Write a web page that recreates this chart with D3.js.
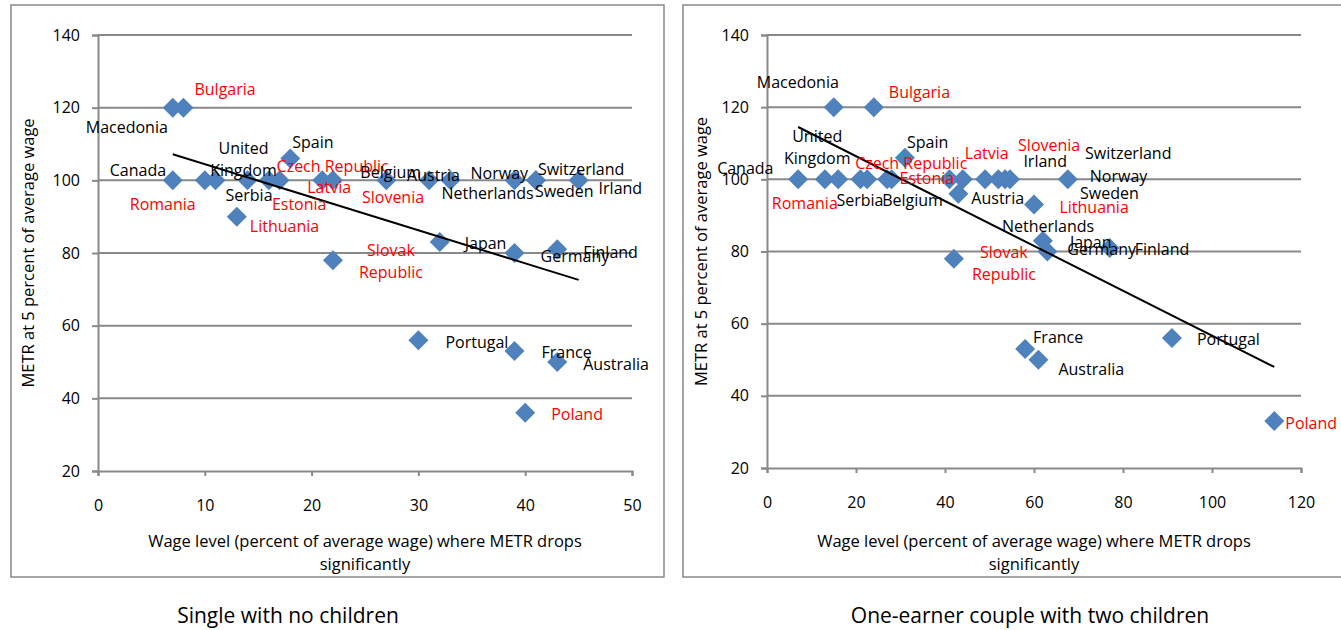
<!DOCTYPE html>
<html>
<head>
<meta charset="utf-8">
<script src="https://cdn.jsdelivr.net/npm/d3@7"></script>
<style>
  body { margin: 0; background: #fff; }
  text { font-family: "Open Sans", sans-serif; }
</style>
</head>
<body>
<div id="dataviz"></div>
<script>
// ---- data ----
var yTicks = [20, 40, 60, 80, 100, 120, 140];
var singleXTicks = [0, 10, 20, 30, 40, 50];
var coupleXTicks = [0, 20, 40, 60, 80, 100, 120];

var redCountries = ["Bulgaria", "Romania", "Czech Republic", "Latvia", "Estonia",
  "Lithuania", "Slovenia", "Slovak Republic", "Poland"];

// single with no children
var singleCountries = ["Macedonia", "Bulgaria", "Canada", "Romania", "United Kingdom", "Serbia",
  "Lithuania", "Spain", "Czech Republic", "Estonia", "Latvia", "Slovenia", "Belgium", "Austria",
  "Netherlands", "Norway", "Switzerland", "Sweden", "Irland", "Slovak Republic", "Japan",
  "Germany", "Finland", "Portugal", "France", "Australia", "Poland"];
var singleWage = [7, 8, 7, 10, 11, 14, 13, 18, 17, 16, 21, 22, 27, 31, 33, 39, 41, 41, 45, 22, 32, 39, 43, 30, 39, 43, 40];
var singleMetr = [120, 120, 100, 100, 100, 100, 90, 106, 100, 100, 100, 100, 100, 100, 100, 100, 100, 100, 100, 78, 83, 80, 81, 56, 53, 50, 36];
var singleTrendX = [7, 45];
var singleTrendY = [107.2, 72.6];

// one-earner couple with two children
var coupleCountries = ["Macedonia", "Bulgaria", "Canada", "Romania", "United Kingdom", "Serbia",
  "Czech Republic", "Belgium", "Estonia", "Spain", "Latvia", "Austria", "Slovenia", "Irland",
  "Switzerland", "Norway", "Sweden", "Lithuania", "Netherlands", "Japan", "Germany", "Finland",
  "Slovak Republic", "France", "Australia", "Portugal", "Poland"];
var coupleWage = [15, 24, 7, 13, 16, 21, 22.5, 27, 28, 31, 44, 43, 53.5, 52, 54.6, 67.6, 49, 41, 60, 62, 63, 77, 42, 58, 61, 91, 114];
var coupleMetr = [120, 120, 100, 100, 100, 100, 100, 100, 100, 106, 100, 96, 100, 100, 100, 100, 100, 100, 93, 83, 80, 81, 78, 53, 50, 56, 33];
var coupleTrendX = [7, 114];
var coupleTrendY = [114.5, 48];

// label placement (pixel offsets from the marker), like Excel's dragged data labels
var singleLabelPos = {
  "Macedonia": [-87, 19], "Bulgaria": [11, -19], "Canada": [-63, -10], "Romania": [-75, 24],
  "United Kingdom": [28, -32, true], "Serbia": [-22, 15], "Lithuania": [13, 9], "Spain": [2, -17],
  "Czech Republic": [-3, -14], "Estonia": [3, 24], "Latvia": [-15, 7], "Slovenia": [29, 17],
  "Belgium": [-26, -8], "Austria": [-22, -5], "Netherlands": [-9, 13], "Norway": [-44, -7],
  "Switzerland": [2, -11], "Sweden": [-1, 11], "Irland": [20, 8], "Slovak Republic": [58, -10, true],
  "Japan": [25, 1], "Germany": [26, 3], "Finland": [26, 3], "Portugal": [27, 2], "France": [27, 1],
  "Australia": [26, 2], "Poland": [26, 1]
};
var coupleLabelPos = {
  "Macedonia": [-77, -25], "Bulgaria": [15, -15], "Canada": [-81, -11], "Romania": [-53, 24],
  "United Kingdom": [-21, -43, true], "Serbia": [-24, 21], "Czech Republic": [-12, -16],
  "Belgium": [-5, 21], "Estonia": [8, -1], "Spain": [2, -16], "Latvia": [2, -26], "Austria": [13, 4],
  "Slovenia": [13, -34], "Irland": [25, -18], "Switzerland": [75, -26], "Norway": [22, -3],
  "Sweden": [95, 14], "Lithuania": [110, 28], "Netherlands": [-32, 21], "Japan": [27, 1],
  "Germany": [20, -3], "Finland": [25, 1], "Slovak Republic": [50, -7, true], "France": [8, -12],
  "Australia": [20, 9], "Portugal": [25, 1], "Poland": [11, 2]
};

// ---- setup ----
var widthFull = 1341;
var heightFull = 630;
var gridColor = "#898989";
var markerColor = "#4F81BD";

var svg = d3.select("#dataviz").append("svg")
    .attr("width", widthFull)
    .attr("height", heightFull);

var panels = [
  {
    frame: [11, 5, 653, 572],
    xDomain: [0, 50], xRange: [98, 632], yRange: [471, 35],
    xTicks: singleXTicks, countries: singleCountries, wage: singleWage, metr: singleMetr,
    trendX: singleTrendX, trendY: singleTrendY, labelPos: singleLabelPos,
    yTitleX: 27, title: "Single with no children", titleX: 288
  },
  {
    frame: [683, 5, 670, 572],
    xDomain: [0, 120], xRange: [767, 1301], yRange: [468, 35],
    xTicks: coupleXTicks, countries: coupleCountries, wage: coupleWage, metr: coupleMetr,
    trendX: coupleTrendX, trendY: coupleTrendY, labelPos: coupleLabelPos,
    yTitleX: 700, title: "One-earner couple with two children", titleX: 1030
  }
];

panels.forEach(drawPanel);

function drawPanel(p) {
  var x = d3.scaleLinear().domain(p.xDomain).range(p.xRange);
  var y = d3.scaleLinear().domain([20, 140]).range(p.yRange);
  var g = svg.append("g");

  // outer chart frame
  g.append("rect")
    .attr("x", p.frame[0]).attr("y", p.frame[1])
    .attr("width", p.frame[2]).attr("height", p.frame[3])
    .attr("fill", "none").attr("stroke", gridColor).attr("stroke-width", 1.5);

  // horizontal gridlines
  g.selectAll(".grid").data(yTicks.slice(1)).enter().append("line")
    .attr("x1", p.xRange[0]).attr("x2", p.xRange[1])
    .attr("y1", d => y(d)).attr("y2", d => y(d))
    .attr("stroke", gridColor).attr("stroke-width", 2);

  // y axis
  var yAxis = g.append("g")
    .attr("transform", "translate(" + p.xRange[0] + ",0)")
    .call(d3.axisLeft(y).tickValues(yTicks).tickSize(6).tickPadding(12));
  // x axis
  var xAxis = g.append("g")
    .attr("transform", "translate(0," + p.yRange[0] + ")")
    .call(d3.axisBottom(x).tickValues(p.xTicks).tickSize(5).tickPadding(24));

  [yAxis, xAxis].forEach(function(a) {
    a.select(".domain").attr("stroke", gridColor).attr("stroke-width", 2);
    a.selectAll(".tick line").attr("stroke", gridColor).attr("stroke-width", 2);
    a.selectAll(".tick text").attr("fill", "#000").style("font-size", "16px")
      .style("font-family", '"Open Sans", sans-serif');
  });

  // axis titles
  g.append("text")
    .attr("transform", "translate(" + p.yTitleX + "," + (p.yRange[0] + p.yRange[1]) / 2 + ") rotate(-90)")
    .attr("text-anchor", "middle").attr("dominant-baseline", "central")
    .style("font-size", "16.5px")
    .text("METR at 5 percent of average wage");

  var cx = (p.xRange[0] + p.xRange[1]) / 2;
  g.append("text").attr("x", cx).attr("y", 540)
    .attr("text-anchor", "middle").attr("dominant-baseline", "central")
    .style("font-size", "16.5px")
    .text("Wage level (percent of average wage) where METR drops");
  g.append("text").attr("x", cx).attr("y", 563)
    .attr("text-anchor", "middle").attr("dominant-baseline", "central")
    .style("font-size", "16.5px")
    .text("significantly");

  // points
  var pts = p.countries.map(function(c, i) { return { name: c, k: p.wage[i], e: p.metr[i] }; });

  g.selectAll(".dot").data(pts).enter().append("path")
    .attr("d", d3.symbol().type(d3.symbolSquare).size(200))
    .attr("transform", d => "translate(" + x(d.k) + "," + y(d.e) + ") rotate(45)")
    .attr("fill", markerColor);

  // linear trendline
  var line = d3.line().x(d => x(d[0])).y(d => y(d[1]));
  g.append("path")
    .attr("d", line(p.trendX.map((v, i) => [v, p.trendY[i]])))
    .attr("stroke", "#000").attr("stroke-width", 2).attr("fill", "none");

  // data labels
  pts.forEach(function(d) {
    var pos = p.labelPos[d.name];
    var t = g.append("text")
      .attr("dominant-baseline", "central")
      .style("font-size", "16px")
      .attr("fill", redCountries.indexOf(d.name) >= 0 ? "#FF0000" : "#000");
    if (pos[2]) {
      var words = d.name.split(" ");
      t.attr("text-anchor", "middle");
      words.forEach(function(w, j) {
        t.append("tspan")
          .attr("x", x(d.k) + pos[0])
          .attr("y", y(d.e) + pos[1] + j * 22)
          .text(w);
      });
    } else {
      t.attr("x", x(d.k) + pos[0]).attr("y", y(d.e) + pos[1]).text(d.name);
    }
  });

  // panel caption below the chart
  svg.append("text").attr("x", p.titleX).attr("y", 615)
    .attr("text-anchor", "middle").attr("dominant-baseline", "central")
    .style("font-size", "21px")
    .text(p.title);
}
</script>
</body>
</html>
